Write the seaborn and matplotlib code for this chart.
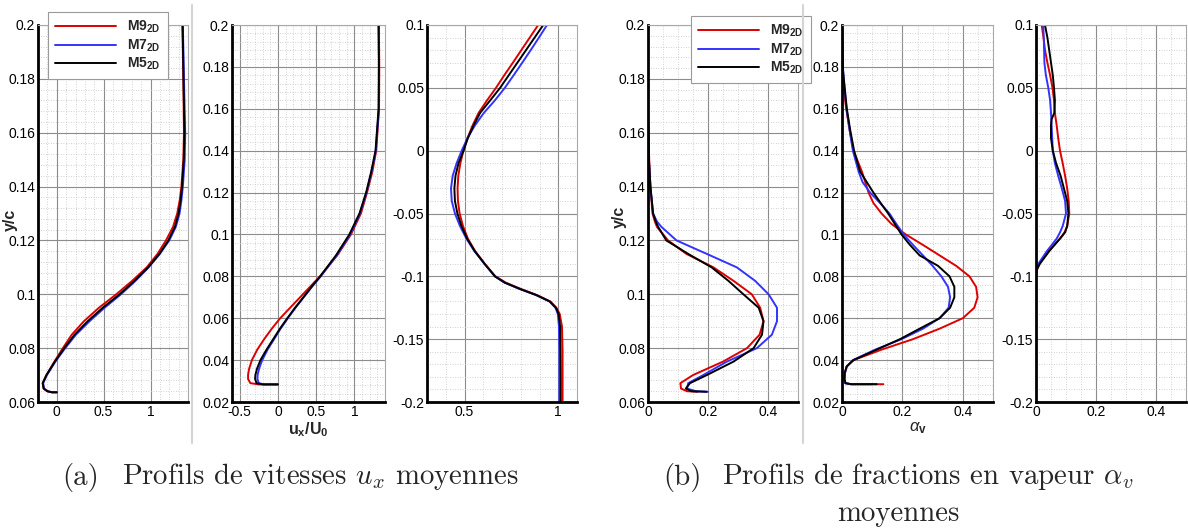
import numpy as np
import pandas as pd
import matplotlib
matplotlib.use("Agg")
import matplotlib.pyplot as plt
from matplotlib.lines import Line2D
from matplotlib.ticker import MultipleLocator, AutoMinorLocator, FuncFormatter
import seaborn as sns

# ---- donnees ----
models = ["M9", "M7", "M5"]
colors = ["#dd0000", "#3333ff", "#000000"]

# (a) vitesses ux/U0
p1_y = [0.2, 0.18, 0.16, 0.15, 0.14, 0.135, 0.13, 0.125, 0.12, 0.115, 0.11, 0.105, 0.1,
        0.095, 0.09, 0.085, 0.08, 0.075, 0.07, 0.067, 0.065, 0.064, 0.0636, 0.0636]
p1_m9 = [1.34, 1.35, 1.357, 1.35, 1.33, 1.312, 1.285, 1.24, 1.165, 1.075, 0.96, 0.805, 0.635,
         0.45, 0.29, 0.16, 0.065, -0.025, -0.11, -0.15, -0.14, -0.1, -0.05, 0.0]
p1_m7 = [1.345, 1.357, 1.37, 1.365, 1.345, 1.33, 1.31, 1.27, 1.2, 1.1, 0.98, 0.84, 0.685,
         0.51, 0.35, 0.205, 0.09, -0.015, -0.105, -0.145, -0.135, -0.1, -0.05, 0.0]
p1_m5 = [1.343, 1.352, 1.362, 1.355, 1.336, 1.322, 1.3, 1.26, 1.19, 1.095, 0.975, 0.83, 0.67,
         0.49, 0.33, 0.19, 0.08, -0.02, -0.11, -0.15, -0.14, -0.1, -0.05, 0.0]

p2_y = [0.2, 0.18, 0.16, 0.14, 0.13, 0.12, 0.11, 0.1, 0.09, 0.08, 0.075, 0.07, 0.065, 0.06,
        0.055, 0.05, 0.045, 0.04, 0.036, 0.033, 0.031, 0.029, 0.0284, 0.0284]
p2_m9 = [1.32, 1.325, 1.322, 1.285, 1.235, 1.165, 1.085, 0.955, 0.775, 0.55, 0.42, 0.29, 0.16,
         0.03, -0.08, -0.18, -0.27, -0.34, -0.375, -0.39, -0.39, -0.36, -0.25, 0.0]
p2_m7 = [1.318, 1.322, 1.32, 1.28, 1.225, 1.158, 1.072, 0.945, 0.77, 0.56, 0.445, 0.337, 0.23,
         0.13, 0.035, -0.05, -0.135, -0.205, -0.245, -0.265, -0.268, -0.25, -0.18, 0.0]
p2_m5 = [1.316, 1.32, 1.316, 1.276, 1.22, 1.153, 1.066, 0.934, 0.759, 0.553, 0.44, 0.333, 0.224,
         0.123, 0.026, -0.061, -0.149, -0.228, -0.272, -0.294, -0.298, -0.28, -0.2, 0.0]

p3_y = [0.1, 0.09, 0.08, 0.07, 0.06, 0.05, 0.04, 0.03, 0.02, 0.01, 0.0, -0.01, -0.02, -0.03,
        -0.04, -0.05, -0.06, -0.07, -0.08, -0.09, -0.1, -0.105, -0.11, -0.115, -0.12, -0.125,
        -0.13, -0.14, -0.16, -0.18, -0.2]
p3_m9 = [0.893, 0.848, 0.803, 0.758, 0.712, 0.668, 0.62, 0.575, 0.543, 0.516, 0.494, 0.478,
         0.467, 0.463, 0.465, 0.474, 0.492, 0.518, 0.557, 0.608, 0.665, 0.72, 0.8, 0.888,
         0.958, 0.99, 1.008, 1.02, 1.023, 1.023, 1.023]
p3_m7 = [0.94, 0.897, 0.853, 0.808, 0.762, 0.715, 0.662, 0.603, 0.555, 0.516, 0.485, 0.458,
         0.437, 0.428, 0.432, 0.449, 0.476, 0.51, 0.553, 0.606, 0.662, 0.713, 0.793, 0.882,
         0.953, 0.985, 0.998, 1.004, 1.006, 1.006, 1.006]
p3_m5 = [0.92, 0.874, 0.828, 0.782, 0.736, 0.69, 0.637, 0.583, 0.548, 0.518, 0.495, 0.468,
         0.452, 0.446, 0.449, 0.462, 0.484, 0.514, 0.555, 0.607, 0.662, 0.715, 0.795, 0.885,
         0.955, 0.988, 1.002, 1.01, 1.012, 1.013, 1.013]

# (b) fractions de vapeur alpha_v
p4_y = [0.165, 0.15, 0.14, 0.13, 0.127, 0.125, 0.12, 0.115, 0.11, 0.105, 0.1, 0.095, 0.09,
        0.085, 0.08, 0.075, 0.07, 0.067, 0.065, 0.064, 0.0638]
p4_m9 = [0.0, 0.004, 0.008, 0.015, 0.023, 0.03, 0.067, 0.128, 0.218, 0.285, 0.346, 0.374,
         0.385, 0.372, 0.33, 0.25, 0.15, 0.108, 0.11, 0.13, 0.165]
p4_m7 = [0.0, 0.003, 0.008, 0.017, 0.03, 0.045, 0.095, 0.196, 0.296, 0.357, 0.402, 0.43,
         0.43, 0.413, 0.363, 0.263, 0.184, 0.134, 0.13, 0.16, 0.2]
p4_m5 = [0.0, 0.003, 0.008, 0.017, 0.026, 0.034, 0.061, 0.134, 0.212, 0.268, 0.318, 0.369,
         0.385, 0.38, 0.352, 0.285, 0.196, 0.14, 0.126, 0.145, 0.195]

p5_y = [0.2, 0.18, 0.17, 0.16, 0.15, 0.14, 0.13, 0.125, 0.12, 0.115, 0.11, 0.105, 0.1, 0.095,
        0.09, 0.085, 0.08, 0.075, 0.07, 0.065, 0.06, 0.055, 0.05, 0.045, 0.04, 0.037, 0.034,
        0.031, 0.029, 0.0285, 0.0285]
p5_m9 = [0.0, 0.001, 0.005, 0.014, 0.025, 0.038, 0.066, 0.077, 0.088, 0.104, 0.131, 0.164,
         0.211, 0.268, 0.323, 0.378, 0.422, 0.444, 0.449, 0.438, 0.4, 0.323, 0.235, 0.131,
         0.038, 0.015, 0.01, 0.008, 0.01, 0.03, 0.137]
p5_m7 = [0.0, 0.003, 0.008, 0.015, 0.025, 0.036, 0.055, 0.068, 0.093, 0.126, 0.157, 0.18,
         0.204, 0.235, 0.268, 0.3, 0.329, 0.351, 0.358, 0.353, 0.323, 0.268, 0.197, 0.11,
         0.036, 0.016, 0.01, 0.008, 0.01, 0.03, 0.1]
p5_m5 = [0.0, 0.002, 0.009, 0.016, 0.027, 0.04, 0.06, 0.082, 0.104, 0.128, 0.153, 0.175,
         0.197, 0.225, 0.257, 0.318, 0.356, 0.372, 0.372, 0.358, 0.323, 0.257, 0.192, 0.115,
         0.038, 0.016, 0.009, 0.008, 0.012, 0.03, 0.115]

p6_y = [0.1, 0.09, 0.08, 0.07, 0.06, 0.05, 0.04, 0.03, 0.025, 0.02, 0.01, 0.0, -0.01, -0.02,
        -0.03, -0.04, -0.05, -0.06, -0.065, -0.07, -0.08, -0.09, -0.095, -0.1]
p6_m9 = [0.019, 0.025, 0.03, 0.038, 0.047, 0.055, 0.06, 0.063, 0.066, 0.069, 0.074, 0.08,
         0.089, 0.097, 0.104, 0.109, 0.111, 0.104, 0.095, 0.08, 0.041, 0.011, 0.003, 0.0]
p6_m7 = [0.024, 0.026, 0.027, 0.028, 0.033, 0.041, 0.047, 0.05, 0.051, 0.052, 0.054, 0.056,
         0.063, 0.074, 0.086, 0.097, 0.1, 0.089, 0.08, 0.069, 0.036, 0.008, 0.001, 0.0]
p6_m5 = [0.03, 0.038, 0.044, 0.05, 0.056, 0.06, 0.063, 0.061, 0.052, 0.05, 0.05, 0.056,
         0.067, 0.082, 0.093, 0.104, 0.108, 0.104, 0.097, 0.08, 0.044, 0.013, 0.002, 0.0]

panels = [
    (p1_y, [p1_m9, p1_m7, p1_m5]),
    (p2_y, [p2_m9, p2_m7, p2_m5]),
    (p3_y, [p3_m9, p3_m7, p3_m5]),
    (p4_y, [p4_m9, p4_m7, p4_m5]),
    (p5_y, [p5_m9, p5_m7, p5_m5]),
    (p6_y, [p6_m9, p6_m7, p6_m5]),
]

# ---- style ----
sns.set_style("white")
plt.rcParams['font.family'] = ['Liberation Sans', 'DejaVu Sans']
plt.rcParams['mathtext.fontset'] = 'custom'
plt.rcParams['mathtext.rm'] = 'Liberation Sans'
plt.rcParams['mathtext.it'] = 'Liberation Sans:italic'
plt.rcParams['mathtext.bf'] = 'Liberation Sans:bold'
plt.rcParams['mathtext.sf'] = 'Liberation Sans'

W, H = 1188, 529
fig = plt.figure(figsize=(W / 100, H / 100), dpi=100)

# position des axes en pixels (gauche, droite)
lefts = [(38, 188), (232, 385), (427, 577), (648, 798), (842, 993), (1036, 1186)]
top_px, bot_px = 25, 402
xlims = [(-0.2, 1.4), (-0.6, 1.4), (0.3, 1.1), (0, 0.5), (0, 0.5), (0, 0.5)]
ylims = [(0.06, 0.2), (0.02, 0.2), (-0.2, 0.1), (0.06, 0.2), (0.02, 0.2), (-0.2, 0.1)]
xmaj = [0.5, 0.5, 0.5, 0.2, 0.2, 0.2]
ymaj = [0.02, 0.02, 0.05, 0.02, 0.02, 0.05]


def fmt(v, pos):
    if abs(v) < 1e-9:
        return "0"
    return "%g" % round(v, 4)


axes = []
for i, ((l, r), (ys, series)) in enumerate(zip(lefts, panels)):
    ax = fig.add_axes([l / W, 1 - bot_px / H, (r - l) / W, (bot_px - top_px) / H])
    for xs, c in zip(series, colors):
        sns.lineplot(x=xs, y=ys, sort=False, estimator=None, color=c, lw=1.4, ax=ax)
    ax.set_xlim(*xlims[i])
    ax.set_ylim(*ylims[i])
    ax.xaxis.set_major_locator(MultipleLocator(xmaj[i]))
    ax.yaxis.set_major_locator(MultipleLocator(ymaj[i]))
    ax.xaxis.set_minor_locator(AutoMinorLocator(5 if xmaj[i] == 0.5 else 4))
    ax.yaxis.set_minor_locator(AutoMinorLocator(5))
    ax.xaxis.set_major_formatter(FuncFormatter(fmt))
    ax.yaxis.set_major_formatter(FuncFormatter(fmt))
    ax.grid(which='major', color='#8c8c8c', lw=0.8)
    ax.grid(which='minor', color='#c4c4c4', lw=0.6, ls=(0, (1, 2)))
    ax.set_axisbelow(True)
    for s in ['left', 'bottom']:
        ax.spines[s].set_color('black')
        ax.spines[s].set_linewidth(2)
    for s in ['top', 'right']:
        ax.spines[s].set_color('#a8a8a8')
        ax.spines[s].set_linewidth(0.8)
    ax.tick_params(which='major', direction='in', length=7, width=2, labelsize=10,
                   pad=2, colors='black', top=False, right=False)
    ax.tick_params(which='minor', direction='in', length=3.5, width=1, top=False, right=False)
    ax.set_xlabel("")
    ax.set_ylabel("")
    axes.append(ax)

axes[0].set_ylabel("y/c", fontweight='bold', fontsize=11.5)
axes[0].yaxis.set_label_coords(-0.133, 0.483)
axes[3].set_ylabel("y/c", fontweight='bold', fontsize=11.5)
axes[3].yaxis.set_label_coords(-0.14, 0.49)
axes[1].set_xlabel(r"$\mathbf{u_x/U_0}$", fontsize=11.5)
axes[1].xaxis.set_label_coords(0.5, -0.048)
axes[4].set_xlabel(r"$\alpha_\mathbf{v}$", fontsize=12)
axes[4].xaxis.set_label_coords(0.5, -0.048)

# legendes
handles = [Line2D([], [], color=c, lw=1.4) for c in colors]
labels = [r"$\mathbf{%s_{2D}}$" % m for m in models]
for ax, (lx, ly) in [(axes[0], (48, 12)), (axes[3], (691, 16))]:
    leg = ax.legend(handles, labels, loc='upper left', bbox_to_anchor=(lx / W, 1 - ly / H),
                    bbox_transform=fig.transFigure, borderaxespad=0, frameon=True,
                    fancybox=False, edgecolor='#9a9a9a', framealpha=1, fontsize=10,
                    handlelength=4.4, labelspacing=0.15, borderpad=0.5, handletextpad=0.8)
    leg.get_frame().set_linewidth(0.8)
    leg.set_zorder(10)

# separateurs verticaux
for xp in [192, 803]:
    fig.add_artist(Line2D([xp / W, xp / W], [1 - 5 / H, 1 - 443 / H],
                          transform=fig.transFigure, color='#d4d4d4', lw=1.5))

# legendes des sous-figures
cap = dict(fontfamily='cmr10', math_fontfamily='cm', fontsize=20.8, va='center')
fig.text(62 / W, 1 - 477 / H, "(a)", ha='left', **cap)
fig.text(122 / W, 1 - 477 / H, r"Profils de vitesses $u_x$ moyennes", ha='left', **cap)
fig.text(663 / W, 1 - 477 / H, "(b)", ha='left', **cap)
fig.text(722 / W, 1 - 477 / H, r"Profils de fractions en vapeur $\alpha_v$", ha='left', **cap)
fig.text(898 / W, 1 - 514 / H, "moyennes", ha='center', **cap)

fig.savefig("out.png", dpi=100)
